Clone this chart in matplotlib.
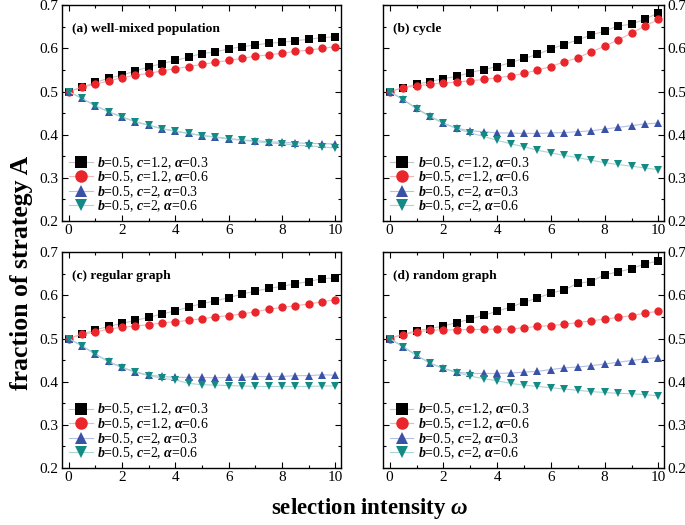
import numpy as np
import matplotlib
matplotlib.use("Agg")
from matplotlib import pyplot as plt
from matplotlib.ticker import MultipleLocator

plt.rcParams['font.family'] = 'Liberation Serif'
plt.rcParams['mathtext.fontset'] = 'custom'
plt.rcParams['mathtext.it'] = 'Liberation Serif:italic:bold'
plt.rcParams['mathtext.rm'] = 'Liberation Serif:bold'
plt.rcParams['mathtext.bf'] = 'Liberation Serif:bold'

omega = np.arange(0, 10.01, 0.5)

titles = ["(a) well-mixed population", "(b) cycle", "(c) regular graph", "(d) random graph"]
labels = [r"$b$=0.5, $c$=1.2, $\alpha$=0.3",
          r"$b$=0.5, $c$=1.2, $\alpha$=0.6",
          r"$b$=0.5, $c$=2, $\alpha$=0.3",
          r"$b$=0.5, $c$=2, $\alpha$=0.6"]

# (a) well-mixed population
a_black = [0.5, 0.51, 0.521, 0.531, 0.538, 0.548, 0.557, 0.565, 0.572, 0.58, 0.588,
           0.592, 0.599, 0.604, 0.608, 0.612, 0.614, 0.618, 0.621, 0.625, 0.627]
a_red = [0.5, 0.51, 0.517, 0.525, 0.532, 0.538, 0.542, 0.548, 0.553, 0.558, 0.563,
         0.568, 0.572, 0.577, 0.582, 0.585, 0.589, 0.593, 0.596, 0.6, 0.604]
a_blue = [0.5, 0.484, 0.467, 0.453, 0.441, 0.43, 0.422, 0.414, 0.408, 0.403, 0.398,
          0.395, 0.391, 0.388, 0.386, 0.384, 0.382, 0.381, 0.38, 0.379, 0.379]
a_teal = [0.5, 0.484, 0.467, 0.453, 0.441, 0.43, 0.422, 0.414, 0.408, 0.403, 0.398,
          0.394, 0.39, 0.387, 0.384, 0.381, 0.379, 0.376, 0.374, 0.372, 0.369]

# (b) cycle
b_black = [0.5, 0.509, 0.517, 0.523, 0.53, 0.535, 0.544, 0.551, 0.558, 0.567, 0.577,
           0.586, 0.599, 0.609, 0.62, 0.631, 0.64, 0.652, 0.656, 0.668, 0.682]
b_red = [0.5, 0.509, 0.513, 0.517, 0.52, 0.522, 0.525, 0.528, 0.532, 0.536, 0.542,
         0.55, 0.558, 0.569, 0.578, 0.592, 0.605, 0.62, 0.635, 0.652, 0.667]
b_blue = [0.5, 0.482, 0.461, 0.443, 0.427, 0.415, 0.409, 0.407, 0.404, 0.404, 0.403,
          0.403, 0.404, 0.405, 0.407, 0.409, 0.413, 0.417, 0.421, 0.425, 0.427]
b_teal = [0.5, 0.481, 0.46, 0.442, 0.426, 0.414, 0.404, 0.396, 0.387, 0.379, 0.372,
          0.364, 0.358, 0.352, 0.347, 0.341, 0.335, 0.331, 0.327, 0.323, 0.319]

# (c) regular graph
c_black = [0.5, 0.51, 0.52, 0.528, 0.535, 0.542, 0.549, 0.557, 0.564, 0.573, 0.581,
           0.587, 0.595, 0.603, 0.61, 0.616, 0.621, 0.627, 0.632, 0.639, 0.64]
c_red = [0.5, 0.51, 0.515, 0.522, 0.526, 0.529, 0.532, 0.536, 0.539, 0.542, 0.546,
         0.55, 0.553, 0.557, 0.562, 0.568, 0.572, 0.576, 0.58, 0.585, 0.59]
c_blue = [0.5, 0.483, 0.464, 0.447, 0.433, 0.423, 0.415, 0.412, 0.41, 0.41, 0.41,
          0.409, 0.41, 0.41, 0.412, 0.412, 0.412, 0.414, 0.414, 0.416, 0.415]
c_teal = [0.5, 0.483, 0.463, 0.446, 0.432, 0.422, 0.414, 0.408, 0.404, 0.396, 0.393,
          0.392, 0.391, 0.39, 0.389, 0.389, 0.389, 0.389, 0.389, 0.39, 0.39]

# (d) random graph
d_black = [0.5, 0.51, 0.518, 0.523, 0.529, 0.537, 0.545, 0.554, 0.563, 0.573, 0.584,
           0.594, 0.605, 0.613, 0.628, 0.632, 0.648, 0.654, 0.662, 0.673, 0.68]
d_red = [0.5, 0.509, 0.515, 0.519, 0.52, 0.52, 0.521, 0.521, 0.522, 0.522, 0.525,
         0.528, 0.53, 0.533, 0.537, 0.541, 0.545, 0.549, 0.553, 0.559, 0.563]
d_blue = [0.5, 0.481, 0.461, 0.443, 0.431, 0.422, 0.419, 0.419, 0.419, 0.42, 0.422,
          0.424, 0.428, 0.432, 0.434, 0.437, 0.441, 0.445, 0.449, 0.453, 0.456]
d_teal = [0.5, 0.481, 0.461, 0.443, 0.43, 0.421, 0.413, 0.407, 0.402, 0.396, 0.392,
          0.389, 0.386, 0.383, 0.38, 0.377, 0.375, 0.373, 0.372, 0.37, 0.367]

panels = [[a_black, a_red, a_blue, a_teal],
          [b_black, b_red, b_blue, b_teal],
          [c_black, c_red, c_blue, c_teal],
          [d_black, d_red, d_blue, d_teal]]

colors = ["#000000", "#e8262b", "#3a52a6", "#138a84"]
line_colors = ["#c4c4c4", "#f4b4b4", "#b4bfe2", "#a8d6d2"]
markers = ["s", "o", "^", "v"]
msizes = [5.5, 6, 6, 6]

fig = plt.figure(figsize=(6.85, 5.25), dpi=100)
positions = [[0.0905, 0.579, 0.407, 0.411],
             [0.559, 0.579, 0.410, 0.411],
             [0.0905, 0.1086, 0.407, 0.411],
             [0.559, 0.1086, 0.410, 0.411]]

for k in range(4):
    ax = fig.add_axes(positions[k])
    for s in range(4):
        ax.plot(omega, panels[k][s], color=line_colors[s], lw=0.8,
                marker=markers[s], ms=msizes[s], mfc=colors[s], mec=colors[s],
                mew=0, label=labels[s])
    ax.set_xlim(-0.25, 10.2)
    ax.set_ylim(0.2, 0.7)
    ax.xaxis.set_major_locator(MultipleLocator(2))
    ax.xaxis.set_minor_locator(MultipleLocator(1))
    ax.yaxis.set_major_locator(MultipleLocator(0.1))
    ax.yaxis.set_minor_locator(MultipleLocator(0.05))
    ax.tick_params(which='both', direction='in', top=True, right=True,
                   labelsize=11, pad=2.5)
    ax.tick_params(which='major', length=4, width=0.8)
    ax.tick_params(which='minor', length=2.5, width=0.8)
    ax.set_yticks([0.2, 0.3, 0.4, 0.5, 0.6, 0.7])
    ax.set_yticklabels(["0.2", "0.3", "0.4", "0.5", "0.6", "0.7"])
    if k in (1, 3):
        ax.tick_params(labelleft=False, labelright=True)
    for sp in ax.spines.values():
        sp.set_linewidth(1.0)
    ax.text(0.035, 0.875, titles[k], transform=ax.transAxes, fontsize=9.7,
            fontweight='bold')
    leg = ax.legend(loc='lower left', frameon=False, fontsize=10,
                    handlelength=1.7, handletextpad=0.3, labelspacing=-0.08,
                    borderaxespad=0.1, markerscale=1.5,
                    bbox_to_anchor=(0.0, 0.0))

fig.text(0.032, 0.48, "fraction of strategy A", rotation=90, ha='center',
         va='center', fontsize=18.5, fontweight='bold')
fig.text(0.539, 0.032, r"selection intensity $\omega$", ha='center',
         va='center', fontsize=16.5, fontweight='bold')

fig.savefig("out.png", dpi=100)
